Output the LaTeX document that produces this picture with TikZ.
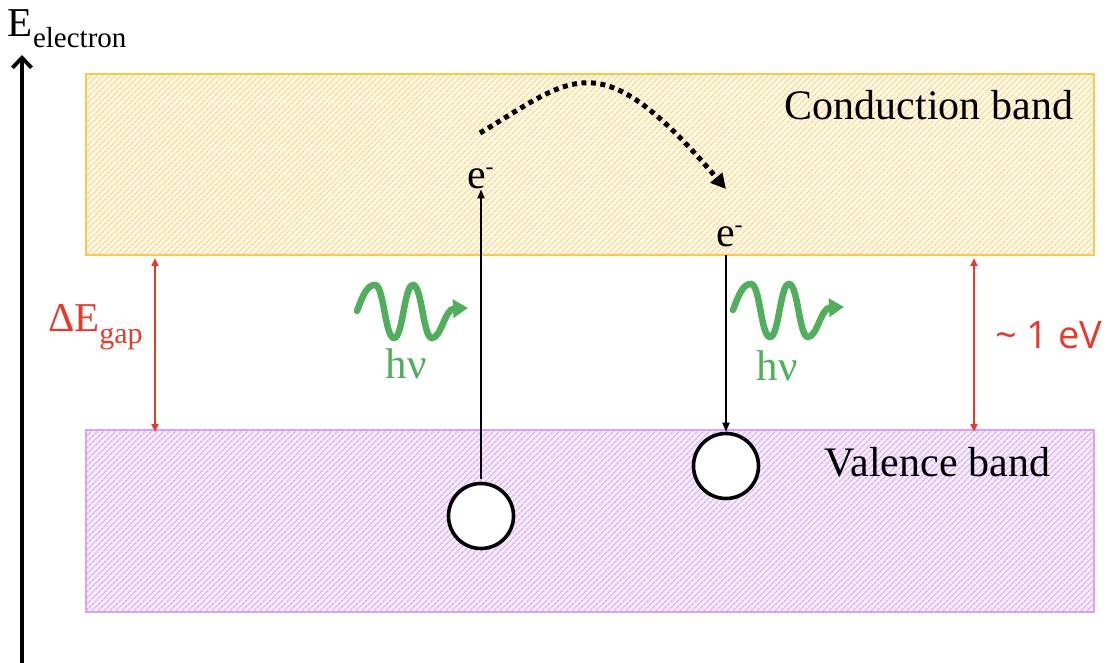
\documentclass[tikz,border=0pt]{standalone}
\usepackage{fontspec}
\setmainfont{Liberation Serif}
\newfontfamily\evfont{Open Sans}
\usetikzlibrary{arrows.meta,patterns.meta}
\definecolor{cbbg}{HTML}{FFF9EA}
\definecolor{cbline}{HTML}{F9DA92}
\definecolor{cbedge}{HTML}{F8C94E}
\definecolor{vbbg}{HTML}{F7EDFD}
\definecolor{vbline}{HTML}{DBB2F6}
\definecolor{vbedge}{HTML}{D6A1F6}
\definecolor{myred}{HTML}{E8392D}
\definecolor{mygreen}{HTML}{50AE5C}
\begin{document}
\begin{tikzpicture}[x=1pt,y=-1pt,
  band/.style={draw, line width=1.8pt, minimum width=1008pt, inner sep=0pt, outer sep=0pt},
  txt/.style={inner sep=0pt, outer sep=0pt},
  hole/.style={circle, draw=black, line width=3.6pt, fill=white, minimum size=65pt, inner sep=0pt},
  transition/.style={line width=1.8pt, -{Triangle[length=9pt,width=7pt]}},
  gaparrow/.style={draw=myred, line width=2pt, {Triangle[length=8pt,width=7pt]}-{Triangle[length=8pt,width=7pt]}},
  wave/.style={draw=mygreen, line width=6.5pt, line cap=round, -{Triangle[length=15pt,width=18pt]}},
  hop/.style={line width=5pt, dash pattern=on 5pt off 4.5pt, -{Triangle[length=15pt,width=15pt]}},
  bigtxt/.style={txt, font=\fontsize{42}{48}\selectfont},
  hvtxt/.style={txt, anchor=base, text=mygreen, font=\fontsize{43}{48}\selectfont}
]
\useasboundingbox (0,0) rectangle (1114,663);

% bands
\node[band, draw=cbedge, minimum height=181pt, preaction={fill=cbbg},
  pattern={Lines[angle=45,distance=4pt,line width=1.4pt]}, pattern color=cbline] (cb) at (590,164.5) {};
\node[band, draw=vbedge, minimum height=182pt, preaction={fill=vbbg},
  pattern={Lines[angle=45,distance=4pt,line width=1.4pt]}, pattern color=vbline] (vb) at (590,521) {};

\node[bigtxt, anchor=base east] (cbl) at (1073,120) {Conduction band};
\node[bigtxt, anchor=base east] (vbl) at (1050,476) {Valence band};

% energy axis
\coordinate (axb) at (22,663);
\coordinate (axt) at (22,55);
\draw[line width=3.8pt, -{Straight Barb[length=10pt,width=19pt,line width=3.8pt]}] (axb) -- (axt);
\node[txt, anchor=base west] (elab) at (8,37)
  {\fontsize{41}{46}\selectfont E\raisebox{-11pt}{\fontsize{29}{32}\selectfont electron}};

% electrons and holes
\node[txt, anchor=base west, font=\fontsize{42}{46}\selectfont] (e1) at (467,189)
  {e\raisebox{14pt}{\fontsize{24}{26}\selectfont -}};
\node[txt, anchor=base west, font=\fontsize{42}{46}\selectfont] (e2) at (716,247)
  {e\raisebox{14pt}{\fontsize{24}{26}\selectfont -}};
\node[hole] (h1) at (481,516) {};
\node[hole] (h2) at (726,466) {};

\draw[transition, shorten <=3pt] (h1.north) -- (h1.north |- e1.south);
\draw[transition, shorten <=8pt] (h2.north |- e2.south) -- (h2.north);

% hop between conduction states
\coordinate (js) at (480,133);
\coordinate (je) at (726,189);
\draw[hop] (js) .. controls (574,77) and (599,40) .. (je);

% gap arrows
\coordinate (g1t) at (155,258);
\coordinate (g1b) at (155,432);
\coordinate (g2t) at (974,258);
\coordinate (g2b) at (974,432);
\draw[gaparrow] (g1t) -- (g1b);
\draw[gaparrow] (g2t) -- (g2b);
\node[txt, anchor=base west, text=myred] (gaplab) at (48,331)
  {\fontsize{41}{46}\selectfont ΔE\raisebox{-12pt}{\fontsize{30}{32}\selectfont gap}};
\node[txt, anchor=base west, text=myred, font=\evfont\fontsize{38}{42}\selectfont] (evlab) at (995,348) {\char`\~{} 1 eV};

% photons
\foreach \dx/\dy in {0/0, 376/-1}{
  \begin{scope}[shift={(\dx,\dy)}]
  \draw[wave] (357,311) .. controls (363,295) and (367,285) .. (375,285)
     .. controls (384,285) and (385,338) .. (394,338)
     .. controls (403,338) and (404,285) .. (413,285)
     .. controls (422,285) and (423,338) .. (432,338)
     .. controls (441,338) and (445,309) .. (468,308);
  \end{scope}
}
\node[hvtxt] (hv1) at (406,378) {hν};
\node[hvtxt] (hv2) at (777,380) {hν};
\end{tikzpicture}
\end{document}
